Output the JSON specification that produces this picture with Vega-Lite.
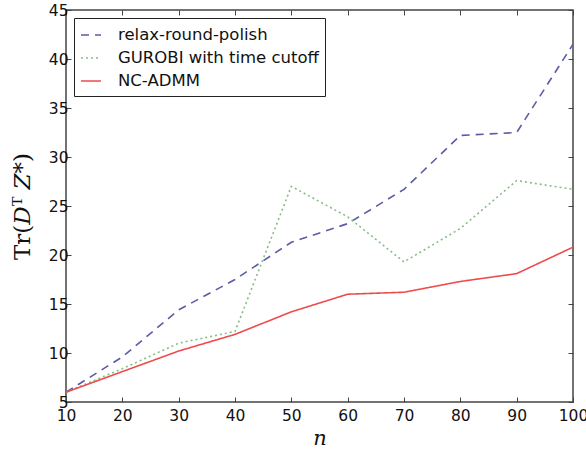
{
  "$schema": "https://vega.github.io/schema/vega-lite/v6.json",
  "autosize": "none",
  "width": 507,
  "height": 392,
  "padding": {"left": 66, "top": 10, "right": 13, "bottom": 51},
  "background": "white",
  "config": {
    "view": {"stroke": "#444444", "strokeWidth": 1.5},
    "axis": {
      "domain": false,
      "grid": false,
      "tickColor": "#444444",
      "tickSize": -5,
      "tickWidth": 1,
      "labelFlush": false,
      "labelFont": "DejaVu Sans",
      "labelFontSize": 15.5,
      "labelColor": "#111111",
      "titleColor": "#111111"
    },
    "legend": {
      "labelFont": "DejaVu Sans",
      "labelFontSize": 16.5,
      "labelColor": "#111111",
      "labelLimit": 400
    }
  },
  "data": {
    "values": [
      {"n": 10, "method": "relax-round-polish", "value": 6.0},
      {"n": 20, "method": "relax-round-polish", "value": 9.6},
      {"n": 30, "method": "relax-round-polish", "value": 14.4},
      {"n": 40, "method": "relax-round-polish", "value": 17.5},
      {"n": 50, "method": "relax-round-polish", "value": 21.3},
      {"n": 60, "method": "relax-round-polish", "value": 23.2},
      {"n": 70, "method": "relax-round-polish", "value": 26.7},
      {"n": 80, "method": "relax-round-polish", "value": 32.2},
      {"n": 90, "method": "relax-round-polish", "value": 32.5},
      {"n": 100, "method": "relax-round-polish", "value": 41.5},
      {"n": 10, "method": "GUROBI with time cutoff", "value": 6.0},
      {"n": 20, "method": "GUROBI with time cutoff", "value": 8.4},
      {"n": 30, "method": "GUROBI with time cutoff", "value": 11.0},
      {"n": 40, "method": "GUROBI with time cutoff", "value": 12.2},
      {"n": 50, "method": "GUROBI with time cutoff", "value": 27.0},
      {"n": 60, "method": "GUROBI with time cutoff", "value": 23.9},
      {"n": 70, "method": "GUROBI with time cutoff", "value": 19.3},
      {"n": 80, "method": "GUROBI with time cutoff", "value": 22.7},
      {"n": 90, "method": "GUROBI with time cutoff", "value": 27.6},
      {"n": 100, "method": "GUROBI with time cutoff", "value": 26.7},
      {"n": 10, "method": "NC-ADMM", "value": 6.0},
      {"n": 20, "method": "NC-ADMM", "value": 8.1},
      {"n": 30, "method": "NC-ADMM", "value": 10.2},
      {"n": 40, "method": "NC-ADMM", "value": 11.9},
      {"n": 50, "method": "NC-ADMM", "value": 14.2},
      {"n": 60, "method": "NC-ADMM", "value": 16.0},
      {"n": 70, "method": "NC-ADMM", "value": 16.2},
      {"n": 80, "method": "NC-ADMM", "value": 17.3},
      {"n": 90, "method": "NC-ADMM", "value": 18.1},
      {"n": 100, "method": "NC-ADMM", "value": 20.8}
    ]
  },
  "layer": [
    {
      "mark": {"type": "line", "strokeWidth": 1.6, "clip": true},
      "encoding": {
        "x": {
          "field": "n", "type": "quantitative",
          "scale": {"domain": [10, 100], "nice": false, "zero": false},
          "axis": {
            "values": [10, 20, 30, 40, 50, 60, 70, 80, 90, 100],
            "labelPadding": 11,
            "title": "n",
            "titleFont": "DejaVu Serif",
            "titleFontStyle": "italic",
            "titleFontWeight": "normal",
            "titleFontSize": 21,
            "titlePadding": 4
          }
        },
        "y": {
          "field": "value", "type": "quantitative",
          "scale": {"domain": [5, 45], "nice": false, "zero": false},
          "axis": {
            "values": [5, 10, 15, 20, 25, 30, 35, 40, 45],
            "labelPadding": 3,
            "title": "Tr(𝐷ᵀ 𝑍*)",
            "titleFont": "DejaVu Serif",
            "titleFontWeight": "normal",
            "titleFontSize": 23,
            "titlePadding": 14
          }
        },
        "color": {
          "field": "method", "type": "nominal",
          "scale": {
            "domain": ["relax-round-polish", "GUROBI with time cutoff", "NC-ADMM"],
            "range": ["#5c5ca6", "#86bc86", "#ee4c4c"]
          },
          "legend": {
            "title": null,
            "orient": "none",
            "legendX": 8,
            "legendY": 8,
            "symbolType": "stroke",
            "symbolSize": 400,
            "symbolStrokeWidth": 1.6,
            "labelOffset": 16,
            "rowPadding": 3,
            "padding": 6,
            "strokeColor": "#222222",
            "fillColor": "white"
          }
        },
        "strokeDash": {
          "field": "method", "type": "nominal",
          "scale": {
            "domain": ["relax-round-polish", "GUROBI with time cutoff", "NC-ADMM"],
            "range": [[8, 6], [2, 3], [1, 0]]
          },
          "legend": {
            "title": null,
            "orient": "none",
            "legendX": 8,
            "legendY": 8,
            "symbolType": "stroke",
            "symbolSize": 400,
            "symbolStrokeWidth": 1.6,
            "labelOffset": 16,
            "rowPadding": 3,
            "padding": 6,
            "strokeColor": "#222222",
            "fillColor": "white"
          }
        }
      }
    },
    {
      "mark": {"type": "rule", "opacity": 0},
      "encoding": {
        "x": {
          "field": "n", "type": "quantitative",
          "scale": {"domain": [10, 100], "nice": false, "zero": false},
          "axis": {"orient": "top", "values": [10, 20, 30, 40, 50, 60, 70, 80, 90, 100], "labels": false, "title": null}
        },
        "y": {
          "field": "value", "type": "quantitative",
          "scale": {"domain": [5, 45], "nice": false, "zero": false},
          "axis": {"orient": "right", "values": [5, 10, 15, 20, 25, 30, 35, 40, 45], "labels": false, "title": null}
        }
      }
    }
  ],
  "resolve": {"axis": {"x": "independent", "y": "independent"}}
}
